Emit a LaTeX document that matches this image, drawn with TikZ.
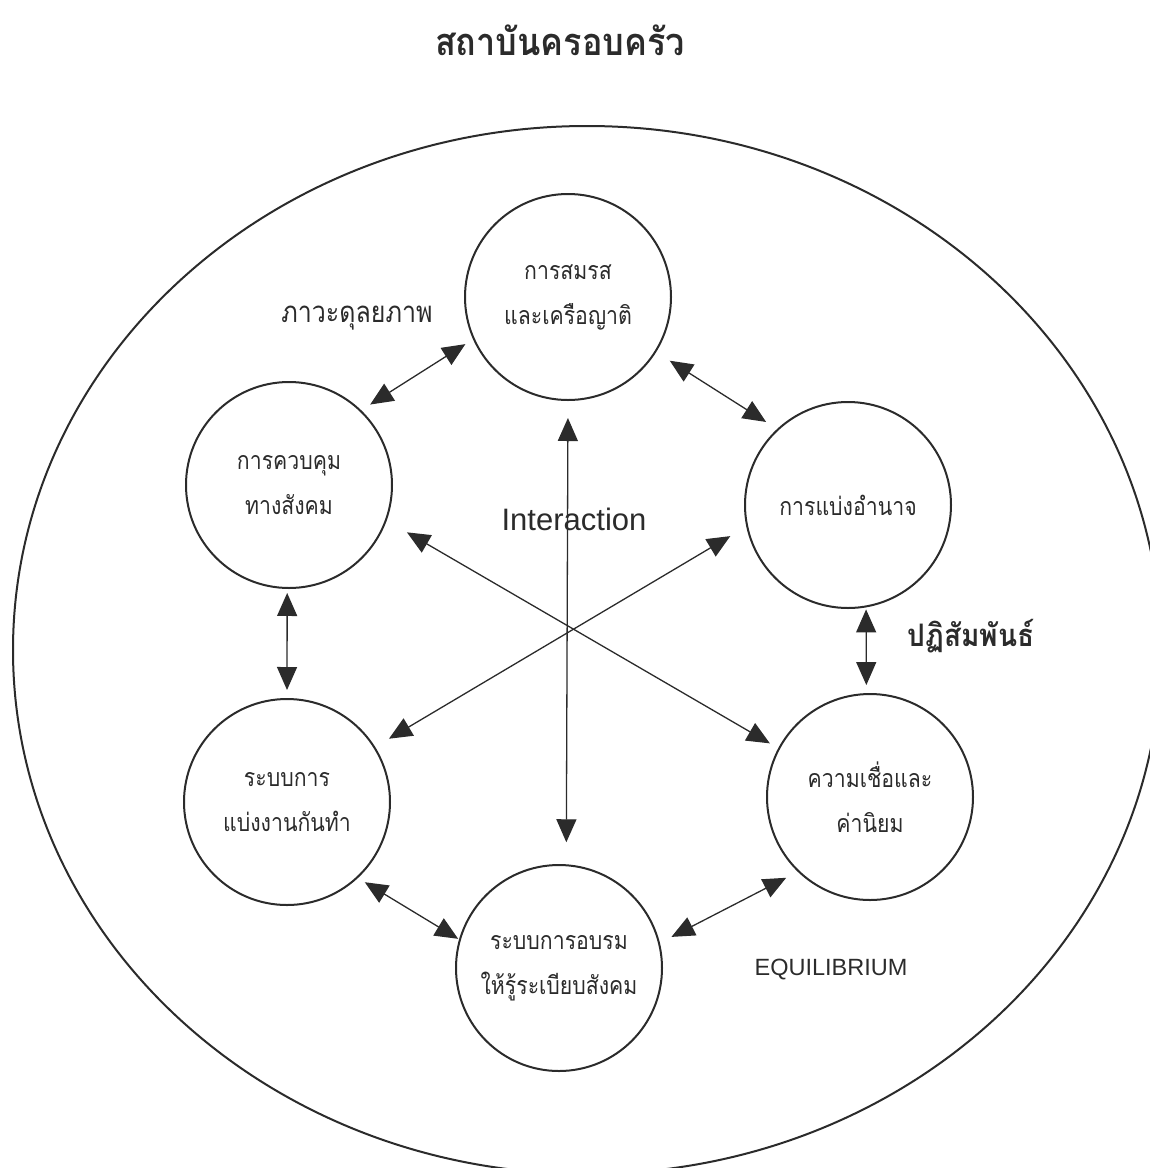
\documentclass[tikz,border=0pt]{standalone}
\usepackage{fontspec}
\setmainfont{Liberation Sans}
\newfontfamily\thaifont[Script=Thai,FakeStretch=0.9]{Loma}
\newfontfamily\thaithin[Script=Thai,FakeStretch=0.85]{Loma}
\usetikzlibrary{arrows.meta}
\definecolor{ink}{HTML}{2B2B2B}

\begin{document}
\begin{tikzpicture}[x=0.5pt,y=-0.5pt,
    main node/.style={circle,draw=ink,line width=1pt,minimum size=103pt,inner sep=0pt,
      align=center,text=ink,font=\thaithin\fontsize{12.5}{22.5}\selectfont},
    label node/.style={text=ink,inner sep=0pt},
    link/.style={{Triangle[length=11.5pt,width=10pt]}-{Triangle[length=11.5pt,width=10pt]},
      draw=ink,line width=0.65pt}]
    \useasboundingbox (0,0) rectangle (1150,1168);
    \clip (0,0) rectangle (1150,1168);
    \draw[ink,line width=1pt] (587,650) ellipse [x radius=287pt,y radius=262pt];

    \node[label node,font=\thaifont\bfseries\fontsize{19}{20}\selectfont] (title) at (560,40) {สถาบันครอบครัว};

    \node[main node] (marriage) at (568,297) {การสมรส\\และเครือญาติ};
    \node[main node] (control) at (289,485) {การควบคุม\\ทางสังคม};
    \node[main node] (power) at (848,505) {การแบ่งอำนาจ};
    \node[main node] (labour) at (287,802) {ระบบการ\\แบ่งงานกันทำ};
    \node[main node] (belief) at (870,797) {ความเชื่อและ\\ค่านิยม};
    \node[main node] (train) at (559,968) {ระบบการอบรม\\ให้รู้ระเบียบสังคม};

    \node[label node,font=\thaithin\fontsize{14.7}{18}\selectfont] (balance) at (357,318) {ภาวะดุลยภาพ};
    \node[label node,font=\thaifont\bfseries\fontsize{15.5}{18}\selectfont] (inter) at (971,636) {ปฏิสัมพันธ์};
    \node[label node,font=\fontsize{15.5}{18}\selectfont] (interaction) at (574,519) {Interaction};
    \node[label node,font=\fontsize{11.75}{14}\selectfont] (equi) at (831,970) {EQUILIBRIUM};

    \path[every edge/.style={link}]
    (control.46) edge[shorten <=5.3pt,shorten >=4.5pt] (marriage.204)
    (marriage.328) edge[shorten <=8pt,shorten >=6.5pt] (power.133)
    (control.269) edge[shorten <=2pt,shorten >=4pt] (labour.90)
    (power.280) edge[shorten <=1pt,shorten >=4pt] (belief.92)
    (labour.313) edge[shorten <=4pt,shorten >=0.5pt] (train.164)
    (belief.226) edge[shorten <=6.5pt,shorten >=6.5pt] (train.14)

    (marriage.270) edge[shorten <=8.5pt,shorten >=11pt] (train.86)
    (control.340) edge[shorten <=11.7pt,shorten >=4.8pt] (belief.152)
    (power.192) edge[shorten <=9.3pt,shorten >=8pt] (labour.32);
\end{tikzpicture}
\end{document}
